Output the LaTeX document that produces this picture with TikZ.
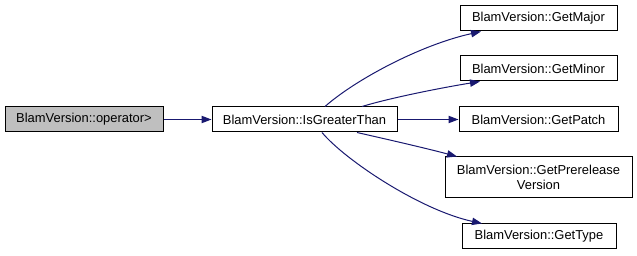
\documentclass[tikz,border=0pt]{standalone}
\usepackage{fontspec}
\setmainfont{Liberation Sans}
\usetikzlibrary{arrows.meta,calc}
\definecolor{edgeblue}{HTML}{191970}
\definecolor{rootgray}{HTML}{BFBFBF}
\begin{document}
\begin{tikzpicture}[x=0.75pt,y=-0.75pt,
  fn/.style={draw=black,line width=0.75pt,fill=white,inner sep=0pt,
    font=\fontsize{9.7pt}{11pt}\selectfont,align=center,minimum height=18.75pt},
  edge/.style={draw=edgeblue,line width=0.75pt,-{Triangle[length=7.5pt,width=5.5pt]},fill=none}]
\useasboundingbox (0,0) rectangle (637,256);
\node[fn,fill=rootgray,minimum width=118.5pt] (op) at (84,119.5) {BlamVersion::operator>};
\node[fn,minimum width=138.75pt] (igt) at (304.5,119.5) {BlamVersion::IsGreaterThan};
\node[fn,minimum width=117.75pt] (major) at (538.5,18.5) {BlamVersion::GetMajor};
\node[fn,minimum width=117.75pt] (minor) at (538.5,68.5) {BlamVersion::GetMinor};
\node[fn,minimum width=119.25pt] (patch) at (538.5,119.5) {BlamVersion::GetPatch};
\node[fn,minimum width=140.25pt,minimum height=30.75pt,font=\fontsize{9.7pt}{10.8pt}\selectfont] (pre) at (538.5,177.5) {BlamVersion::GetPrerelease\\Version};
\node[fn,minimum width=115.5pt] (type) at (539,236.5) {BlamVersion::GetType};
\draw[edge] (op) -- (igt);
\draw[edge] ($(igt.north)+(20.5,0)$) .. controls (355,80) and (420,45) .. ($(major.south)+(-57.5,0)$);
\draw[edge] ($(igt.north)+(57.5,0)$) .. controls (390,98) and (440,88) .. ($(minor.south)+(-58.5,0)$);
\draw[edge] (igt) -- (patch);
\draw[edge] ($(igt.south)+(52.5,0)$) .. controls (390,140) and (425,148) .. ($(pre.north)+(-81.5,0)$);
\draw[edge] ($(igt.south)+(17.5,0)$) .. controls (345,160) and (420,210) .. ($(type.north)+(-57,0)$);
\end{tikzpicture}
\end{document}
